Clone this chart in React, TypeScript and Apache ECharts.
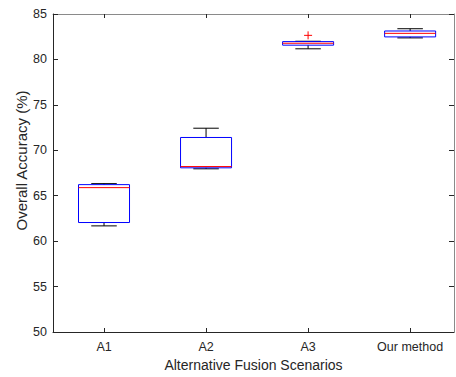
import React, { useEffect, useRef } from "react";
import * as echarts from "echarts";

const categories = ["A1", "A2", "A3", "Our method"];
// [low whisker, Q1, median, Q3, high whisker]
const lowWhisker = [61.68, 67.96, 81.17, 82.37];
const q1 = [62.05, 68.07, 81.57, 82.48];
const median = [65.89, 68.21, 81.78, 82.87];
const q3 = [66.22, 71.41, 81.96, 83.13];
const highWhisker = [66.33, 72.43, 82.0, 83.38];
const outliers: [number, number][] = [[3, 82.65]];
const yTicks = [50, 55, 60, 65, 70, 75, 80, 85];

const AXIS = "#262626";
const FONT = "'Liberation Sans', Arial, sans-serif";

export default function App() {
  const ref = useRef<HTMLDivElement>(null);
  useEffect(() => {
    document.body.style.margin = "0";
    if (!ref.current) return;
    const chart = echarts.init(ref.current, undefined, { renderer: "svg" });
    const boxData = categories.map((_, i) => [
      i + 1,
      lowWhisker[i],
      q1[i],
      median[i],
      q3[i],
      highWhisker[i],
    ]);
    const xBase = {
      type: "value" as const,
      min: 0.5,
      max: 4.43,
      splitLine: { show: false },
    };
    const yBase = {
      type: "value" as const,
      min: 50,
      max: 85,
      interval: 5,
      splitLine: { show: false },
    };
    chart.setOption({
      animation: false,
      grid: { left: 53, right: 2, top: 14, bottom: 41 },
      xAxis: [
        {
          ...xBase,
          position: "bottom",
          name: "Alternative Fusion Scenarios",
          nameLocation: "middle",
          nameGap: 26,
          nameTextStyle: { fontFamily: FONT, fontSize: 14, color: AXIS },
          axisLine: { show: true, onZero: false, lineStyle: { color: AXIS, width: 1 } },
          axisTick: { show: true, inside: true, length: 4, customValues: [1, 2, 3, 4], lineStyle: { color: AXIS } },
          axisLabel: {
            customValues: [1, 2, 3, 4],
            margin: 8,
            fontFamily: FONT,
            fontSize: 12.5,
            color: AXIS,
            formatter: (v: number) => categories[Math.round(v) - 1] ?? "",
          },
        },
        {
          ...xBase,
          position: "top",
          axisLine: { show: true, onZero: false, lineStyle: { color: "#8a8a8a", width: 1 } },
          axisTick: { show: true, inside: true, length: 4, customValues: [1, 2, 3, 4], lineStyle: { color: AXIS } },
          axisLabel: { show: false },
        },
      ],
      yAxis: [
        {
          ...yBase,
          position: "left",
          name: "Overall Accuracy (%)",
          nameLocation: "middle",
          nameGap: 24,
          nameMoveOverlap: false,
          nameTextStyle: { fontFamily: FONT, fontSize: 15, color: AXIS, padding: [0, 0, 0, 25] },
          axisLine: { show: true, onZero: false, lineStyle: { color: AXIS, width: 1 } },
          axisTick: { show: true, inside: true, length: 5, lineStyle: { color: AXIS } },
          axisLabel: {
            margin: 6,
            fontFamily: FONT,
            fontSize: 12.5,
            color: AXIS,
            customValues: yTicks,
          },
        },
        {
          ...yBase,
          position: "right",
          axisLine: { show: true, onZero: false, lineStyle: { color: "#8a8a8a", width: 1 } },
          axisTick: { show: true, inside: true, length: 5, lineStyle: { color: AXIS } },
          axisLabel: { show: false },
        },
      ],
      series: [
        {
          type: "custom",
          xAxisIndex: 0,
          yAxisIndex: 0,
          data: boxData,
          renderItem: (_params: any, api: any) => {
            const x = api.value(0);
            const lo = api.coord([x, api.value(1)]);
            const b1 = api.coord([x, api.value(2)]);
            const md = api.coord([x, api.value(3)]);
            const b3 = api.coord([x, api.value(4)]);
            const hi = api.coord([x, api.value(5)]);
            const bw = api.size([0.5, 0])[0];
            const cw = api.size([0.25, 0])[0];
            const cx = lo[0];
            const black = { stroke: "#000000", lineWidth: 1 };
            return {
              type: "group",
              children: [
                { type: "line", shape: { x1: cx, y1: b3[1], x2: cx, y2: hi[1] }, style: black },
                { type: "line", shape: { x1: cx, y1: b1[1], x2: cx, y2: lo[1] }, style: black },
                { type: "line", shape: { x1: cx - cw / 2, y1: hi[1], x2: cx + cw / 2, y2: hi[1] }, style: black },
                { type: "line", shape: { x1: cx - cw / 2, y1: lo[1], x2: cx + cw / 2, y2: lo[1] }, style: black },
                {
                  type: "rect",
                  shape: { x: cx - bw / 2, y: b3[1], width: bw, height: b1[1] - b3[1] },
                  style: { fill: "none", stroke: "#0000ff", lineWidth: 1 },
                },
                {
                  type: "line",
                  shape: { x1: cx - bw / 2, y1: md[1], x2: cx + bw / 2, y2: md[1] },
                  style: { stroke: "#ff0000", lineWidth: 1 },
                },
              ],
            };
          },
        },
        {
          type: "custom",
          xAxisIndex: 0,
          yAxisIndex: 0,
          data: outliers,
          renderItem: (_params: any, api: any) => {
            const p = api.coord([api.value(0), api.value(1)]);
            const s = 4;
            const st = { stroke: "#ff0000", lineWidth: 1 };
            return {
              type: "group",
              children: [
                { type: "line", shape: { x1: p[0] - s, y1: p[1], x2: p[0] + s, y2: p[1] }, style: st },
                { type: "line", shape: { x1: p[0], y1: p[1] - s, x2: p[0], y2: p[1] + s }, style: st },
              ],
            };
          },
        },
      ],
    });
    return () => chart.dispose();
  }, []);
  return <div ref={ref} style={{ width: 456, height: 377 }} />;
}
